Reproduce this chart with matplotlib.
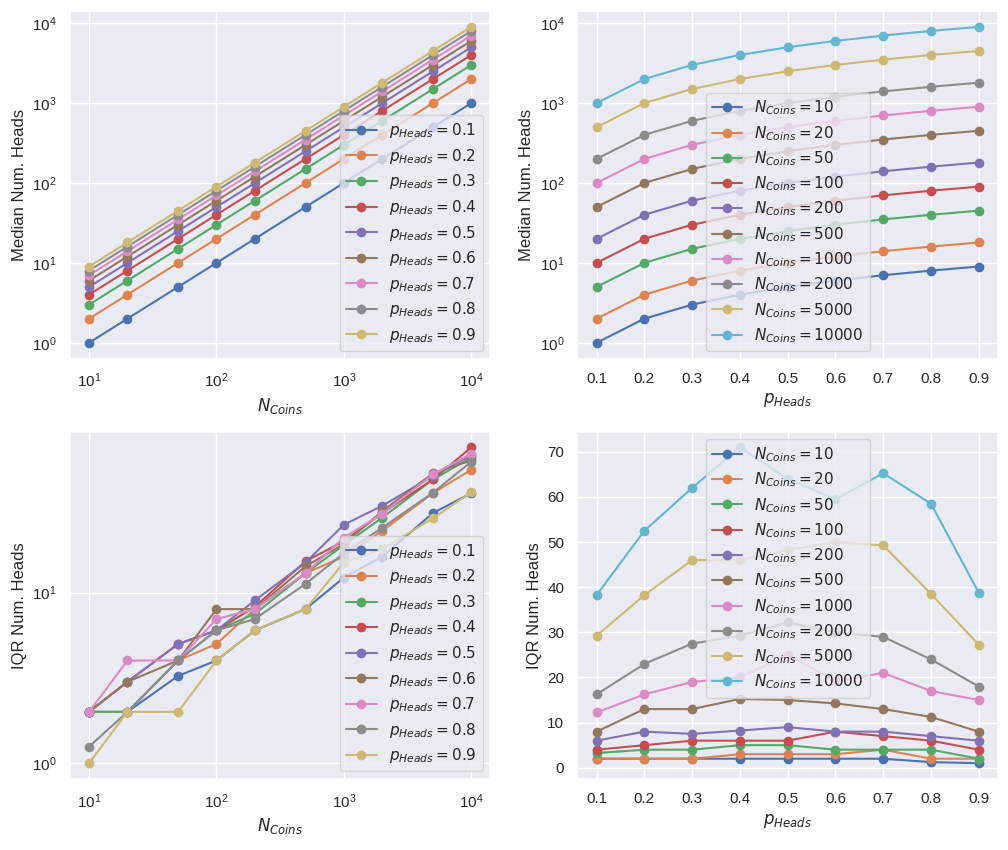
import matplotlib
matplotlib.use("Agg")
import matplotlib.pyplot as plt
import seaborn as sns

sns.set_theme()
plt.rcParams['font.family'] = ['Liberation Sans', 'DejaVu Sans']
plt.rcParams['mathtext.fontset'] = 'dejavusans'
plt.rcParams['legend.labelspacing'] = 0.43

n_coins = [10, 20, 50, 100, 200, 500, 1000, 2000, 5000, 10000]
p_heads = [0.1, 0.2, 0.3, 0.4, 0.5, 0.6, 0.7, 0.8, 0.9]

# median number of heads, rows: p_heads, columns: n_coins
median_p01 = [1, 2, 5, 10, 20, 50, 100, 200, 500, 1000]
median_p02 = [2, 4, 10, 20, 40, 100, 200, 400, 1000, 2000]
median_p03 = [3, 6, 15, 30, 60, 150, 300, 600, 1500, 3000]
median_p04 = [4, 8, 20, 40, 80, 200, 400, 800, 2000, 4000]
median_p05 = [5, 10, 25, 50, 100, 250, 500, 1000, 2500, 5000]
median_p06 = [6, 12, 30, 60, 120, 300, 600, 1200, 3000, 6000]
median_p07 = [7, 14, 35, 70, 140, 350, 700, 1400, 3500, 7000]
median_p08 = [8, 16, 40, 80, 160, 400, 800, 1600, 4000, 8000]
median_p09 = [9, 18, 45, 90, 180, 450, 900, 1800, 4500, 9000]
medians = [median_p01, median_p02, median_p03, median_p04, median_p05,
           median_p06, median_p07, median_p08, median_p09]

# IQR of number of heads, rows: n_coins, columns: p_heads
iqr_n10 = [2, 2, 2, 2, 2, 2, 2, 1.25, 1]
iqr_n20 = [2, 2, 2, 3, 3, 3, 4, 2, 2]
iqr_n50 = [3.25, 4, 4, 5, 5, 4, 4, 4, 2]
iqr_n100 = [4, 5, 6, 6, 6, 8, 7, 6, 4]
iqr_n200 = [6, 8, 7.5, 8.25, 9, 8, 8, 7, 6]
iqr_n500 = [8, 13, 13, 15.25, 15, 14.25, 13, 11.25, 8]
iqr_n1000 = [12.25, 16.25, 19, 20, 25, 19.25, 21, 17, 15]
iqr_n2000 = [16.25, 23, 27.5, 29.25, 32.25, 30, 29, 24, 18]
iqr_n5000 = [29.25, 38.25, 46, 46, 48.25, 50, 49.25, 38.5, 27.25]
iqr_n10000 = [38.25, 52.5, 62, 71, 64, 59.5, 65.25, 58.5, 38.75]
iqrs = [iqr_n10, iqr_n20, iqr_n50, iqr_n100, iqr_n200, iqr_n500,
        iqr_n1000, iqr_n2000, iqr_n5000, iqr_n10000]

p_labels = [r'$p_{Heads} = %s$' % p for p in p_heads]
n_labels = [r'$N_{Coins} = %d$' % n for n in n_coins]

fig, axes = plt.subplots(2, 2, figsize=(10.08, 8.5), dpi=100)
fig.subplots_adjust(left=0.0694, right=0.990, top=0.987, bottom=0.0835,
                    wspace=0.207, hspace=0.210)

ax = axes[0, 0]
for i, lab in enumerate(p_labels):
    ax.plot(n_coins, medians[i], marker='o', label=lab)
ax.set_xscale('log')
ax.set_yscale('log')
ax.set_xlabel(r'$N_{Coins}$')
ax.set_ylabel('Median Num. Heads')
ax.legend(loc='lower right')

ax = axes[0, 1]
for j, lab in enumerate(n_labels):
    ax.plot(p_heads, [medians[i][j] for i in range(len(p_heads))], marker='o', label=lab)
ax.set_yscale('log')
ax.set_xticks(p_heads)
ax.set_xlabel(r'$p_{Heads}$')
ax.set_ylabel('Median Num. Heads')
ax.legend(loc='lower center')

ax = axes[1, 0]
for i, lab in enumerate(p_labels):
    ax.plot(n_coins, [iqrs[j][i] for j in range(len(n_coins))], marker='o', label=lab)
ax.set_xscale('log')
ax.set_yscale('log')
ax.set_xlabel(r'$N_{Coins}$')
ax.set_ylabel('IQR Num. Heads')
ax.legend(loc='lower right')

ax = axes[1, 1]
for j, lab in enumerate(n_labels):
    ax.plot(p_heads, iqrs[j], marker='o', label=lab)
ax.set_xticks(p_heads)
ax.set_xlabel(r'$p_{Heads}$')
ax.set_ylabel('IQR Num. Heads')
ax.legend(loc='upper center')

fig.savefig('out.png', dpi=100)
